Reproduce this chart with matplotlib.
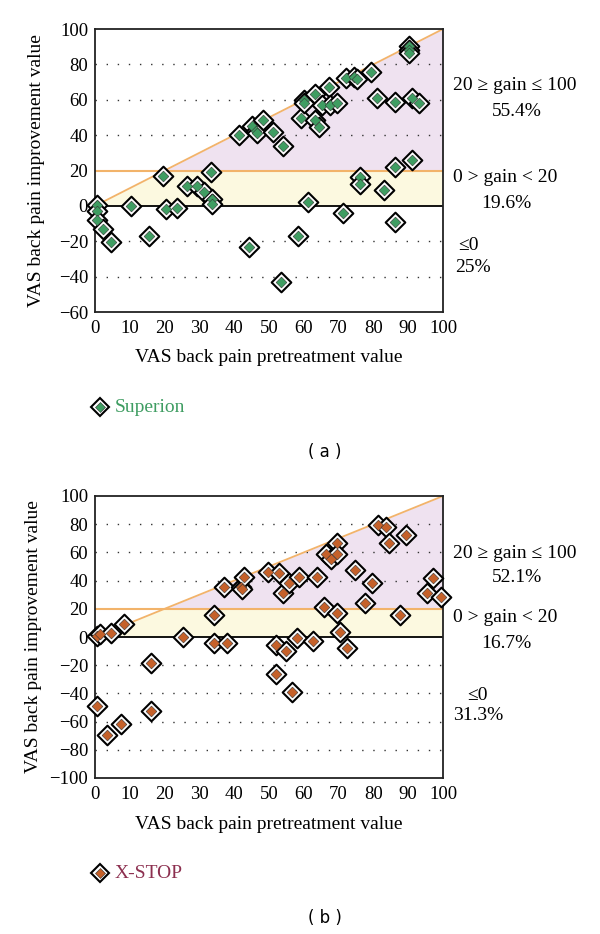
import numpy as np
import matplotlib
matplotlib.use("Agg")
import matplotlib.pyplot as plt

plt.rcParams["font.family"] = ["Liberation Serif", "DejaVu Serif"]

# ── Data ─────────────────────────────────────────────────────────────
superion_x = [0.5, 0.5, 0.5, 2.4, 4.5, 10.3, 15.4, 19.4, 20.4, 23.5,
              26.3, 29.4, 31.4, 33.5, 33.5, 33.3, 41.4, 44.3, 45.2, 46.3,
              46.5, 48.3, 51.2, 54.1, 53.4, 58.2, 59.2, 60.1, 60.2, 61.3,
              63.2, 63.2, 64.5, 65.1, 67.2, 67.5, 69.4, 71.2, 72.1, 74.4,
              75.4, 76.1, 76.1, 79.2, 81.1, 83.0, 86.1, 86.1, 86.1, 90.1,
              90.1, 90.1, 91.1, 91.1, 93.2]
superion_y = [0.6, -2.7, -8.0, -13.0, -20.6, 0.1, -17.0, 17.1, -1.9, -1.0,
              11.4, 11.4, 8.0, 3.9, 0.8, 19.0, 40.0, -23.0, 45.2, 42.3,
              41.0, 48.6, 41.9, 34.0, -43.2, -17.0, 49.9, 59.9, 58.3, 2.0,
              63.3, 48.6, 44.4, 57.0, 67.4, 57.0, 58.0, -3.9, 72.1, 73.0,
              71.6, 16.5, 12.2, 75.9, 60.8, 9.0, 58.9, 22.2, -8.9, 90.4,
              88.1, 86.2, 61.2, 25.9, 58.3]

xstop_x = [0.5, 1.5, 4.5, 8.4, 0.5, 3.5, 7.5, 16.1, 16.1, 25.2,
           34.1, 34.1, 38.0, 37.1, 42.0, 42.1, 42.8, 49.8, 53.0, 53.9,
           55.8, 58.7, 51.9, 51.9, 54.9, 56.7, 58.0, 62.7, 63.9, 65.8,
           66.4, 67.7, 69.6, 69.6, 69.6, 70.4, 72.5, 74.7, 77.6, 79.5,
           81.4, 83.6, 84.6, 89.4, 87.6, 95.3, 97.2, 99.4]
xstop_y = [1.0, 2.0, 3.0, 9.0, -48.7, -69.5, -61.7, -18.7, -52.3, 0.2,
           15.6, -4.5, -4.5, 35.2, 35.2, 34.0, 42.3, 46.3, 45.2, 31.4,
           38.5, 42.3, -5.7, -26.2, -9.7, -38.8, -1.0, -2.6, 42.3, 21.5,
           58.9, 55.1, 66.4, 58.9, 17.2, 3.3, -7.6, 47.5, 24.3, 38.1,
           79.4, 78.3, 66.4, 72.3, 15.6, 31.4, 41.6, 28.2]

x_ticks = list(range(0, 101, 10))
a_yticks = list(range(-60, 101, 20))
b_yticks = list(range(-100, 101, 20))

a_labels = ["20 \u2265 gain \u2264 100", "55.4%", "0 > gain < 20", "19.6%", "\u22640", "25%"]
b_labels = ["20 \u2265 gain \u2264 100", "52.1%", "0 > gain < 20", "16.7%", "\u22640", "31.3%"]

GREEN = "#3f9d62"
ORANGE = "#c5612a"
LINE_ORANGE = "#f2b36a"

fig = plt.figure(figsize=(6.0, 9.34), dpi=100)
W, H = 600, 934


def ax_rect(left, top, right, bottom):
    return [left / W, 1 - bottom / H, (right - left) / W, (bottom - top) / H]


def draw_panel(ax, xs, ys, ylo, yhi, yticks, face, grid_levels, ylab_x, xlab_y):
    xx = np.linspace(0, 100, 201)
    ax.fill_between(xx, 0, np.minimum(xx, 20), color="#fcf9e0", lw=0, zorder=0)
    ax.fill_between(xx, 20, np.maximum(xx, 20), color="#efe2f0", lw=0, zorder=0)
    for g in grid_levels:
        ax.axhline(g, color="#333333", lw=1.0, ls=(0, (1, 7)), zorder=1)
    ax.plot([0, 100], [0, 100], color=LINE_ORANGE, lw=1.3, zorder=2)
    ax.axhline(20, color=LINE_ORANGE, lw=1.5, zorder=2)
    ax.axhline(0, color="black", lw=1.3, zorder=2)
    ax.scatter(xs, ys, marker="D", s=100, facecolor="white", edgecolor="black",
               linewidth=1.5, zorder=3, clip_on=False)
    ax.scatter(xs, ys, marker="D", s=30, facecolor=face, edgecolor="#333333",
               linewidth=0.4, zorder=4, clip_on=False)
    ax.set_xlim(0, 100)
    ax.set_ylim(ylo, yhi)
    ax.set_xticks(x_ticks)
    ax.set_yticks(yticks)
    ax.tick_params(length=0, labelsize=13.5)
    ax.tick_params(axis="x", pad=6)
    ax.tick_params(axis="y", pad=5)
    for s in ax.spines.values():
        s.set_color("#222222")
        s.set_linewidth(1.3)
    ax.set_xlabel("VAS back pain pretreatment value", fontsize=14)
    ax.set_ylabel("VAS back pain improvement value", fontsize=14)
    ax.yaxis.set_label_coords(ylab_x, 0.5)
    ax.xaxis.set_label_coords(0.5, xlab_y)


def side_text(items, labels):
    for (x, y), t in zip(items, labels):
        fig.text(x / W, 1 - y / H, t, ha="left", va="center", fontsize=14)


def legend_entry(y, face, label, color):
    fig.add_artist(plt.Line2D([100 / W], [1 - y / H], marker="D", ms=9.5,
                              mfc="white", mec="black", mew=1.5))
    fig.add_artist(plt.Line2D([100 / W], [1 - y / H], marker="D", ms=5,
                              mfc=face, mec="#333333", mew=0.4))
    fig.text(115 / W, 1 - y / H, label, color=color, fontsize=14, va="center")


# ── Panel (a) ────────────────────────────────────────────────────────
ax_a = fig.add_axes(ax_rect(95, 29, 443, 312))
draw_panel(ax_a, superion_x, superion_y, -60, 100, a_yticks, GREEN,
           [80, 60, 40, -20, -40], -0.144, -0.131)
side_text([(453, 85), (492, 111), (453, 178), (481, 204), (458, 246), (455, 268)],
          a_labels)
legend_entry(407, GREEN, "Superion", GREEN)
fig.text(325 / W, 1 - 452 / H, "( a )", fontsize=12, ha="center", va="center",
         family="DejaVu Sans")

# ── Panel (b) ────────────────────────────────────────────────────────
ax_b = fig.add_axes(ax_rect(95, 496, 443, 778))
draw_panel(ax_b, xstop_x, xstop_y, -100, 100, b_yticks, ORANGE,
           [80, 60, 40, -20, -40, -60, -80], -0.152, -0.135)
side_text([(453, 553), (492, 578), (453, 617), (481, 643), (467, 695), (453, 716)],
          b_labels)
legend_entry(873, ORANGE, "X-STOP", "#8c2f4f")
fig.text(325 / W, 1 - 918 / H, "( b )", fontsize=12, ha="center", va="center",
         family="DejaVu Sans")

fig.savefig("out.png", dpi=100, facecolor="white")
